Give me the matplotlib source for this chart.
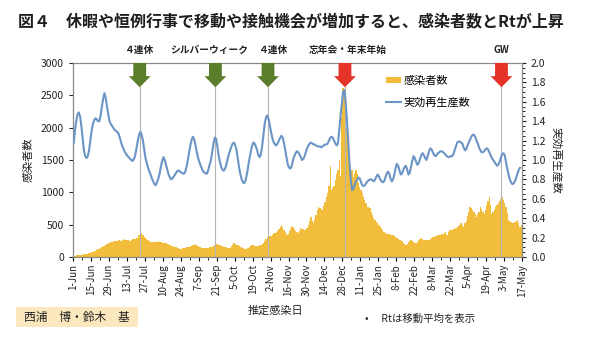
import datetime as dt

import matplotlib
matplotlib.use("Agg")
import matplotlib.pyplot as plt
import matplotlib.transforms as mtransforms
import numpy as np
from matplotlib.lines import Line2D
from matplotlib.patches import Patch, Polygon, Rectangle
from matplotlib.ticker import MultipleLocator

plt.rcParams["font.family"] = ["Noto Sans CJK JP", "DejaVu Sans"]

START = dt.date(2020, 6, 1)
N_DAYS = 350

# daily infections by estimated infection date (one row per week, from 1-Jun-2020)
cases = [
    20, 22, 25, 28, 30, 32, 35,
    38, 40, 42, 45, 50, 55, 60,
    70, 80, 90, 100, 110, 120, 130,
    140, 150, 165, 175, 185, 195, 210,
    220, 230, 235, 240, 245, 250, 255,
    260, 265, 255, 270, 275, 270, 265,
    270, 260, 255, 265, 275, 280, 285,
    290, 300, 340, 390, 370, 340, 310,
    300, 280, 260, 245, 235, 230, 232,
    230, 235, 238, 240, 235, 228, 220,
    218, 215, 215, 205, 195, 185, 175,
    165, 160, 155, 150, 140, 132, 125,
    128, 132, 140, 145, 150, 155, 160,
    170, 175, 180, 190, 200, 190, 175,
    160, 150, 140, 135, 132, 138, 140,
    145, 150, 155, 160, 175, 190, 200,
    195, 185, 180, 170, 165, 160, 155,
    148, 140, 142, 145, 165, 190, 210,
    200, 190, 180, 170, 160, 150, 140,
    130, 120, 125, 135, 150, 170, 185,
    180, 175, 170, 172, 175, 178, 180,
    200, 220, 250, 280, 315, 320, 325,
    330, 345, 365, 375, 385, 400, 430,
    460, 495, 470, 420, 380, 340, 360,
    400, 440, 480, 460, 430, 400, 380,
    365, 400, 445, 440, 430, 425, 420,
    450, 500, 560, 625, 560, 520, 580,
    650, 720, 780, 760, 740, 725, 790,
    850, 920, 985, 1100, 1400, 1035, 1070,
    1100, 1190, 1280, 1350, 1500, 1250, 2170,
    2610, 2450, 2270, 2000, 1705, 1550, 1400,
    1345, 1240, 1300, 1345, 1290, 1150, 1080,
    1030, 985, 930, 880, 830, 780, 770,
    755, 700, 650, 610, 570, 545, 520,
    495, 470, 445, 420, 390, 365, 360,
    355, 350, 345, 345, 340, 330, 315,
    300, 285, 270, 260, 240, 220, 200,
    185, 200, 230, 250, 260, 245, 230,
    220, 210, 235, 260, 275, 290, 280,
    270, 265, 262, 260, 270, 280, 295,
    305, 315, 322, 330, 335, 338, 340,
    350, 360, 375, 390, 340, 380, 420,
    420, 425, 430, 440, 445, 460, 480,
    500, 520, 495, 470, 520, 560, 630,
    700, 780, 750, 720, 700, 660, 625,
    660, 700, 780, 740, 700, 665, 730,
    800, 870, 935, 800, 665, 690, 720,
    780, 800, 830, 860, 900, 935, 880,
    830, 780, 680, 570, 550, 540, 520,
    530, 540, 555, 570, 520, 470, 500,
]

# effective reproduction number (moving average), same start day
rt = [
    1.17, 1.30, 1.40, 1.47, 1.49, 1.45, 1.35,
    1.22, 1.10, 1.04, 1.02, 1.04, 1.10, 1.20,
    1.30, 1.37, 1.41, 1.43, 1.42, 1.40, 1.40,
    1.46, 1.55, 1.63, 1.69, 1.64, 1.55, 1.47,
    1.40, 1.37, 1.35, 1.33, 1.31, 1.30, 1.29,
    1.27, 1.23, 1.18, 1.14, 1.11, 1.08, 1.06,
    1.04, 1.03, 1.01, 1.00, 0.99, 1.01, 1.05,
    1.12, 1.20, 1.26, 1.29, 1.26, 1.20, 1.11,
    1.02, 0.97, 0.92, 0.88, 0.85, 0.81, 0.78,
    0.75, 0.74, 0.77, 0.81, 0.86, 0.93, 0.99,
    1.03, 1.00, 0.95, 0.90, 0.85, 0.82, 0.80,
    0.81, 0.83, 0.85, 0.87, 0.89, 0.89, 0.88,
    0.87, 0.86, 0.86, 0.88, 0.93, 1.00, 1.08,
    1.15, 1.21, 1.24, 1.21, 1.15, 1.08, 1.02,
    0.98, 0.94, 0.91, 0.88, 0.87, 0.86, 0.86,
    0.90, 0.95, 1.00, 1.08, 1.17, 1.23, 1.22,
    1.14, 1.05, 0.98, 0.93, 0.90, 0.89, 0.91,
    0.95, 1.01, 1.06, 1.10, 1.14, 1.17, 1.18,
    1.15, 1.10, 1.01, 0.92, 0.85, 0.80, 0.77,
    0.76, 0.79, 0.85, 0.93, 1.01, 1.08, 1.14,
    1.18, 1.17, 1.14, 1.10, 1.05, 1.03, 1.06,
    1.15, 1.27, 1.38, 1.44, 1.46, 1.42, 1.35,
    1.28, 1.22, 1.18, 1.16, 1.15, 1.17, 1.20,
    1.23, 1.25, 1.23, 1.17, 1.10, 1.02, 0.95,
    0.92, 0.91, 0.94, 1.00, 1.04, 1.07, 1.09,
    1.08, 1.06, 1.03, 1.00, 1.01, 1.04, 1.08,
    1.12, 1.15, 1.17, 1.18, 1.17, 1.16, 1.16,
    1.15, 1.14, 1.14, 1.14, 1.13, 1.14, 1.15,
    1.16, 1.16, 1.17, 1.20, 1.23, 1.24, 1.23,
    1.20, 1.17, 1.15, 1.17, 1.30, 1.45, 1.58,
    1.70, 1.72, 1.60, 1.42, 1.20, 0.98, 0.80,
    0.69, 0.70, 0.74, 0.78, 0.80, 0.82, 0.81,
    0.77, 0.74, 0.73, 0.74, 0.76, 0.78, 0.79,
    0.80, 0.80, 0.79, 0.78, 0.80, 0.83, 0.85,
    0.83, 0.80, 0.78, 0.77, 0.78, 0.82, 0.86,
    0.88, 0.86, 0.81, 0.78, 0.80, 0.85, 0.92,
    0.96, 0.94, 0.89, 0.85, 0.86, 0.90, 0.93,
    0.94, 0.90, 0.85, 0.87, 0.93, 0.99, 1.04,
    1.02, 0.98, 0.95, 0.97, 1.01, 1.05, 1.07,
    1.05, 1.02, 1.00, 1.04, 1.09, 1.12, 1.11,
    1.08, 1.05, 1.04, 1.05, 1.07, 1.08, 1.09,
    1.09, 1.08, 1.07, 1.05, 1.04, 1.03, 1.03,
    1.04, 1.04, 1.06, 1.10, 1.14, 1.18, 1.19,
    1.19, 1.18, 1.17, 1.13, 1.10, 1.11, 1.15,
    1.18, 1.21, 1.24, 1.26, 1.26, 1.24, 1.20,
    1.17, 1.13, 1.10, 1.08, 1.08, 1.09, 1.11,
    1.12, 1.11, 1.08, 1.05, 1.02, 1.00, 0.98,
    0.96, 0.94, 0.95, 0.98, 1.02, 1.06, 1.07,
    1.05, 0.98, 0.91, 0.85, 0.80, 0.77, 0.75,
    0.76, 0.78, 0.82, 0.86, 0.90, 0.92,
]

event_labels = ["４連休", "シルバーウィーク", "４連休", "忘年会・年末年始", "GW"]
event_dates = ["2020-07-23", "2020-09-20", "2020-10-31", "2020-12-30", "2021-05-01"]
event_colors = ["#5b7e2b", "#5b7e2b", "#5b7e2b", "#e5332a", "#e5332a"]
# small sideways nudges (days) so neighbouring labels don't collide
label_nudge = [0, -5, 4, 2, 0]

BAR_COLOR = "#f1bd3b"
LINE_COLOR = "#6b95c5"


def day_of(date_str):
    return (dt.date.fromisoformat(date_str) - START).days


def draw_arrow(ax, x, color):
    # fat block arrow hanging from the top of the plot area
    trans = mtransforms.blended_transform_factory(ax.transData, ax.transAxes)
    sw, hw = 5.0, 8.5
    top, neck, tip = 1.0, 0.932, 0.875
    pts = [
        (x - sw, top), (x + sw, top), (x + sw, neck), (x + hw, neck),
        (x, tip), (x - hw, neck), (x - sw, neck),
    ]
    ax.add_patch(Polygon(pts, closed=True, transform=trans, facecolor=color,
                         edgecolor="none", zorder=6, clip_on=False))


def main():
    fig = plt.figure(figsize=(6.0, 3.39), dpi=100)
    ax = fig.add_axes([0.1217, 0.2419, 0.7483, 0.5723])
    ax2 = ax.twinx()

    days = np.arange(len(cases))
    ax.bar(days, cases, width=1.0, align="edge", color=BAR_COLOR,
           edgecolor="none", zorder=2)
    ax2.plot(np.arange(len(rt)) + 0.5, rt, color=LINE_COLOR, lw=1.5, zorder=4)

    ax.set_xlim(0, N_DAYS)
    ax.set_ylim(0, 3000)
    ax2.set_ylim(0, 2.0)

    # event markers
    trans = mtransforms.blended_transform_factory(ax2.transData, ax2.transAxes)
    for label, date, color, nudge in zip(event_labels, event_dates,
                                         event_colors, label_nudge):
        x = day_of(date)
        ax2.plot([x, x], [0, 0.875], transform=trans, color="#b5b5b5",
                 lw=0.8, zorder=3)
        draw_arrow(ax2, x, color)
        ax2.text(x + nudge, 1.067, label, transform=trans, ha="center",
                 va="center", fontsize=7, fontweight="bold", color="#222222")

    # x ticks every two weeks
    ticks = list(range(0, N_DAYS + 1, 14))
    labels = []
    for t in ticks:
        d = START + dt.timedelta(days=t)
        labels.append(f"{d.day}-{d:%b}")
    ax.set_xticks(ticks)
    ax.set_xticklabels(labels, rotation=90, fontsize=7, color="#222222")
    ax.xaxis.set_minor_locator(MultipleLocator(7))

    ax.set_yticks(range(0, 3001, 500))
    ax.tick_params(axis="y", labelsize=7.5, colors="#222222", length=3)
    ax.tick_params(axis="x", which="major", length=3, pad=2)
    ax.tick_params(axis="x", which="minor", length=2)
    ax2.set_yticks(np.arange(0, 2.01, 0.2))
    ax2.set_yticklabels([f"{v:.1f}" for v in np.arange(0, 2.01, 0.2)])
    ax2.yaxis.set_minor_locator(MultipleLocator(0.05))
    ax2.tick_params(axis="y", labelsize=7.5, colors="#222222", length=3)
    ax2.tick_params(axis="y", which="minor", length=2)

    for a in (ax, ax2):
        for s in a.spines.values():
            s.set_color("#8a8a8a")
            s.set_linewidth(0.8)
    ax.spines["left"].set_color("#555555")
    ax.spines["bottom"].set_color("#555555")

    ax.set_ylabel("感染者数", fontsize=8, color="#222222", labelpad=5)
    ax2.set_ylabel("実効再生産数", fontsize=8, color="#222222",
                   rotation=270, labelpad=11)

    handles = [Patch(facecolor=BAR_COLOR, edgecolor="none"),
               Line2D([], [], color=LINE_COLOR, lw=1.5)]
    ax2.legend(handles, ["感染者数", "実効再生産数"], loc="upper left",
               bbox_to_anchor=(0.675, 0.985), frameon=False, fontsize=8,
               handlelength=1.3, handleheight=0.5, handletextpad=0.3,
               labelspacing=1.0)

    # title and footer texts
    fig.text(0.03, 1 - 22 / 339,
             "図４　休暇や恒例行事で移動や接触機会が増加すると、感染者数とRtが上昇",
             fontsize=11.5, fontweight="bold", color="#1e1e1e", va="center")
    fig.text(276 / 600, 1 - 311 / 339, "推定感染日", fontsize=8,
             ha="center", va="center", color="#222222")
    fig.text(365 / 600, 1 - 319 / 339, "•　 Rtは移動平均を表示", fontsize=7.5,
             va="center", color="#222222")
    fig.patches.append(Rectangle((16 / 600, 1 - 327 / 339), 122 / 600, 20 / 339,
                                 transform=fig.transFigure, facecolor="#fbe8bf",
                                 edgecolor="none"))
    fig.text(77 / 600, 1 - 317 / 339, "西浦　博・鈴木　基", fontsize=8.5,
             ha="center", va="center", color="#222222")

    fig.savefig("out.png", dpi=100)


if __name__ == "__main__":
    main()
